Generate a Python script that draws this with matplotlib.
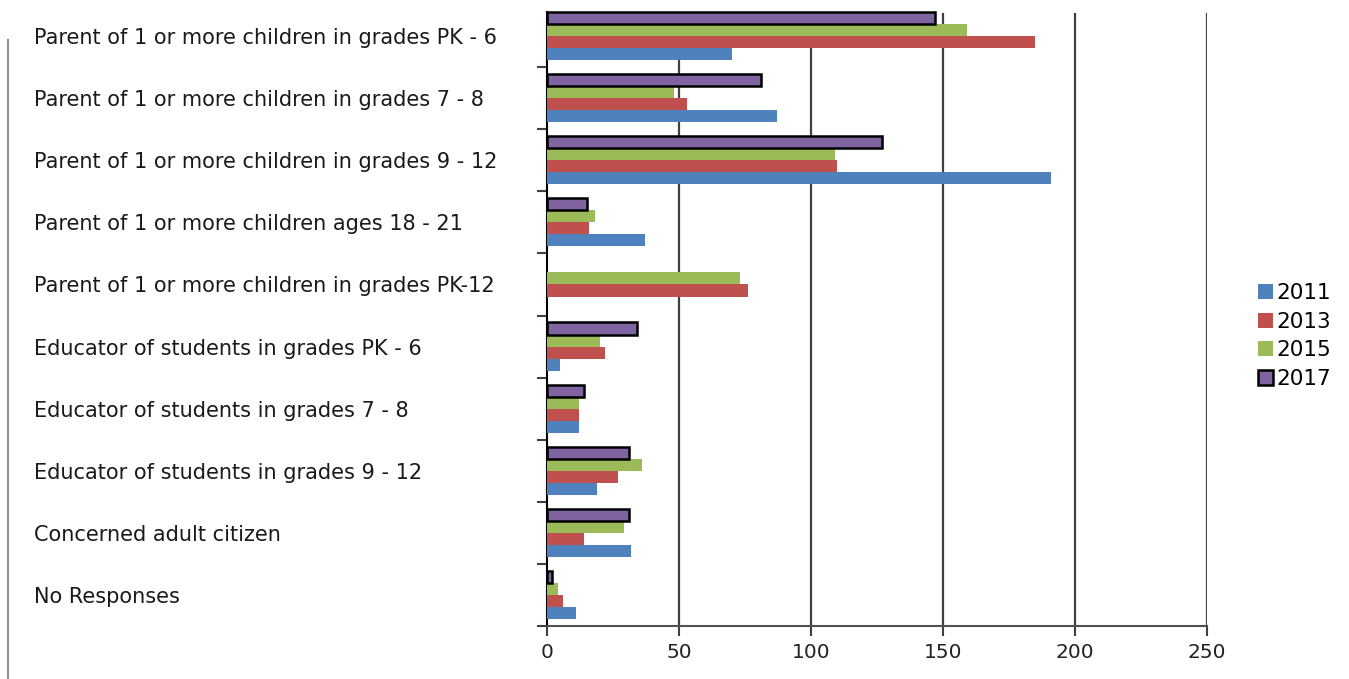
import matplotlib.pyplot as plt
import numpy as np
from matplotlib.lines import Line2D

CATEGORIES = [
    'Parent of 1 or more children in grades PK - 6',
    'Parent of 1 or more children in grades 7 - 8',
    'Parent of 1 or more children in grades 9 - 12',
    'Parent of 1 or more children ages 18 - 21',
    'Parent of 1 or more children in grades PK-12',
    'Educator of students in grades PK - 6',
    'Educator of students in grades 7 - 8',
    'Educator of students in grades 9 - 12',
    'Concerned adult citizen',
    'No Responses',
]
YEARS = ['2011', '2013', '2015', '2017']
V2011 = [70, 87, 191, 37, 0, 5, 12, 19, 32, 11]
V2013 = [185, 53, 110, 16, 76, 22, 12, 27, 14, 6]
V2015 = [159, 48, 109, 18, 73, 20, 12, 36, 29, 4]
V2017 = [147, 81, 127, 15, 0, 34, 14, 31, 31, 2]
X_TICKS = [0, 50, 100, 150, 200, 250]

COLORS = ['#4F81BD', '#C0504D', '#9BBB59', '#8064A2']

plt.rcParams['font.family'] = ['DejaVu Sans']

fig = plt.figure(figsize=(13.49, 6.79), dpi=100)
# plot area is cut at the top in the original, first group loses its top margin
ax = fig.add_axes([547 / 1349, 1 - 626 / 679, 660 / 1349, 613.5 / 679])

y = np.arange(len(CATEGORIES))
h = 0.194
offsets = [1.5 * h, 0.5 * h, -0.5 * h, -1.5 * h]
for vals, year, color, off in zip([V2011, V2013, V2015, V2017], YEARS, COLORS, offsets):
    if year == '2017':
        lw = [1.8 if v > 0 else 0 for v in vals]
        ax.barh(y + off, vals, height=h, color=color, edgecolor='black',
                linewidth=lw, label=year, zorder=3, clip_on=False)
    else:
        ax.barh(y + off, vals, height=h, color=color, linewidth=0, label=year, zorder=3)

ax.set_xlim(0, 250)
ax.set_ylim(len(CATEGORIES) - 0.5, -0.38)
ax.set_xticks(X_TICKS)
ax.set_xticklabels([str(t) for t in X_TICKS], fontsize=14.5, color='#222222')
ax.tick_params(axis='x', length=7, width=1.5, color='#404040', pad=5)

ax.set_yticks(y)
ax.set_yticklabels(CATEGORIES, fontsize=15, color='#1a1a1a', ha='left')
ax.tick_params(axis='y', which='major', length=0, pad=369)
ax.set_yticks(np.arange(0.5, len(CATEGORIES)), minor=True)
ax.tick_params(axis='y', which='minor', length=7, width=1.5, color='#404040')

for t in X_TICKS[1:]:
    ax.axvline(t, color='#404040', linewidth=1.6, zorder=1)

ax.spines['top'].set_visible(False)
ax.spines['right'].set_visible(False)
ax.spines['left'].set_color('black')
ax.spines['left'].set_linewidth(1.5)
ax.spines['bottom'].set_color('#505050')
ax.spines['bottom'].set_linewidth(1.5)

handles, labels = ax.get_legend_handles_labels()
legend_handles = [hd.patches[0] for hd in handles]
fig.legend(legend_handles, labels, loc='center left', bbox_to_anchor=(1239 / 1349, 1 - 336 / 679),
           frameon=False, fontsize=15.5, handlelength=0.7, handleheight=0.7,
           handletextpad=0.15, labelspacing=0.4)

fig.add_artist(Line2D([8 / 1349, 8 / 1349], [0, 1 - 40 / 679], color='#909090', linewidth=1.5))

fig.savefig('out.png', dpi=100)
